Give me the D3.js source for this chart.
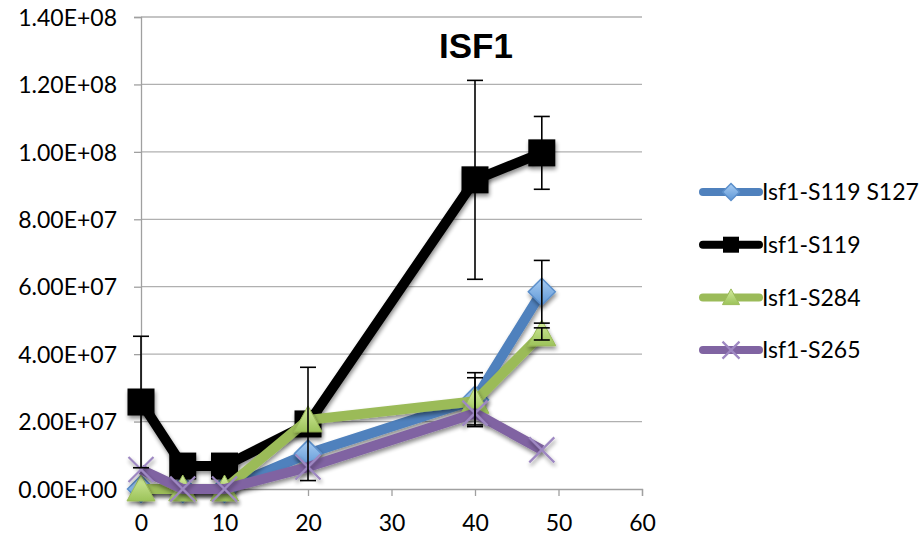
<!DOCTYPE html>
<html><head><meta charset="utf-8">
<script src="https://cdn.jsdelivr.net/npm/d3@7"></script>
<style>body{margin:0;background:#fff}</style>
</head><body>
<svg id="c" width="924" height="539"></svg>
<script>
const times = [0, 5, 10, 20, 40, 48];
const seriesNames = ["Isf1-S119 S127", "Isf1-S119", "Isf1-S284", "Isf1-S265"];
const valsS119S127 = [0, 0, 0, 1.05e7, 2.65e7, 5.85e7];
const errS119S127  = [0, 0, 0, 0, 0.8e7, 0.93e7];
const valsS119 = [2.58e7, 0.68e7, 0.68e7, 1.93e7, 9.17e7, 9.97e7];
const errS119  = [1.95e7, 0, 0, 1.68e7, 2.95e7, 1.08e7];
const valsS284 = [0, 0, 0, 2.05e7, 2.6e7, 4.6e7];
const errS284  = [0, 0, 0, 0, 0.7e7, 0.18e7];
const valsS265 = [0.58e7, 0, 0, 0.65e7, 2.25e7, 1.16e7];
const errS265  = [0, 0, 0, 0, 0, 0];
const yTicks = [0, 2e7, 4e7, 6e7, 8e7, 1e8, 1.2e8, 1.4e8];
const yTickLabels = ["0.00E+00","2.00E+07","4.00E+07","6.00E+07","8.00E+07","1.00E+08","1.20E+08","1.40E+08"];
const xTicks = [0, 10, 20, 30, 40, 50, 60];
const title = "ISF1";

const series = [
  {name: seriesNames[0], vals: valsS119S127, err: errS119S127, line: "#4f81bd", marker: "diamond", fill: "#79aee3", stroke: "#5b8fcb"},
  {name: seriesNames[1], vals: valsS119, err: errS119, line: "#000000", marker: "square", fill: "#000", stroke: "#000"},
  {name: seriesNames[2], vals: valsS284, err: errS284, line: "#9bbb59", marker: "triangle", fill: "#b3d77a", stroke: "#9bbb59"},
  {name: seriesNames[3], vals: valsS265, err: errS265, line: "#8064a2", marker: "x", fill: "none", stroke: "#9e88c2"}
];

const svg = d3.select("#c");
const L = 141, R = 642, T = 17, B = 489;
const x = d3.scaleLinear().domain([0, 60]).range([L, R]);
const y = d3.scaleLinear().domain([0, 1.4e8]).range([B, T]);

const defs = svg.append("defs");
const f = defs.append("filter").attr("id","sh").attr("x","-50%").attr("y","-50%").attr("width","200%").attr("height","200%");
f.append("feGaussianBlur").attr("in","SourceAlpha").attr("stdDeviation",2);
f.append("feOffset").attr("dx",1).attr("dy",3).attr("result","o");
f.append("feComponentTransfer").append("feFuncA").attr("type","linear").attr("slope",0.45);
const m = f.append("feMerge"); m.append("feMergeNode"); m.append("feMergeNode").attr("in","SourceGraphic");
const gb = defs.append("linearGradient").attr("id","gBlue").attr("x1",0).attr("y1",0).attr("x2",0).attr("y2",1);
gb.append("stop").attr("offset","0").attr("stop-color","#a9cdf3");
gb.append("stop").attr("offset","1").attr("stop-color","#5e97d6");
const gg = defs.append("linearGradient").attr("id","gGreen").attr("x1",0).attr("y1",0).attr("x2",0).attr("y2",1);
gg.append("stop").attr("offset","0").attr("stop-color","#d4ec9e");
gg.append("stop").attr("offset","1").attr("stop-color","#9cc35a");
series[0].fill = "url(#gBlue)";
series[2].fill = "url(#gGreen)";

// gridlines
svg.append("g").selectAll("line").data(yTicks.slice(1)).join("line")
  .attr("x1", L).attr("x2", R).attr("y1", d => y(d)).attr("y2", d => y(d))
  .attr("stroke", "#b0b0b0").attr("stroke-width", 1.3);

const font = "Lato, 'Open Sans', sans-serif";
// y axis
const ya = d3.axisLeft(y).tickValues(yTicks).tickSize(7).tickFormat((d,i) => yTickLabels[i]);
const yg = svg.append("g").attr("transform", `translate(${L},0)`).call(ya);
yg.attr("font-size", null).attr("font-family", null);
yg.select(".domain").attr("stroke", "#a0a0a0").attr("stroke-width", 1.3);
yg.selectAll(".tick line").attr("stroke", "#a0a0a0").attr("stroke-width", 1.3);
yg.selectAll("text").attr("font-family", font).attr("font-size", 23).attr("fill", "#000").attr("x", -24).attr("dy","0.36em");
// x axis
const xa = d3.axisBottom(x).tickValues(xTicks).tickSize(7).tickFormat(d3.format("d"));
const xg = svg.append("g").attr("transform", `translate(0,${B})`).call(xa);
xg.attr("font-size", null).attr("font-family", null);
xg.select(".domain").attr("stroke", "#a0a0a0").attr("stroke-width", 1.3);
xg.selectAll(".tick line").attr("stroke", "#a0a0a0").attr("stroke-width", 1.3);
xg.selectAll("text").attr("font-family", font).attr("font-size", 23).attr("fill", "#000").attr("y", 34).attr("dy", "0.36em");

function marker(g, type, fill, stroke, size) {
  const h = size/2;
  if (type === "square") {
    g.append("rect").attr("x",-h).attr("y",-h).attr("width",size).attr("height",size).attr("fill","#000");
  } else if (type === "diamond") {
    g.append("path").attr("d",`M0,${-h}L${h},0L0,${h}L${-h},0Z`).attr("fill",fill).attr("stroke",stroke).attr("stroke-width",1.5);
  } else if (type === "triangle") {
    g.append("path").attr("d",`M0,${-h}L${h},${h*0.85}L${-h},${h*0.85}Z`).attr("fill",fill).attr("stroke",stroke).attr("stroke-width",1);
  } else if (type === "x") {
    g.append("path").attr("d",`M${-h},${-h}L${h},${h}M${h},${-h}L${-h},${h}`).attr("stroke",stroke).attr("stroke-width",2.2);
  }
}
const mSize = {square: 27, diamond: 27, triangle: 28, x: 25};

const line = d3.line().x((d,i) => x(times[i])).y(d => y(d));
const plot = svg.append("g");
series.forEach(s => {
  const g = plot.append("g");
  g.append("path").attr("d", line(s.vals)).attr("fill","none").attr("stroke", s.line)
    .attr("stroke-width", 10).attr("stroke-linejoin","round").attr("filter","url(#sh)");
  s.vals.forEach((v,i) => {
    const mg = g.append("g").attr("transform", `translate(${x(times[i])},${y(v)})`).attr("filter","url(#sh)");
    marker(mg, s.marker, s.fill, s.stroke, mSize[s.marker]);
  });
});
// error bars
series.forEach(s => {
  const eg = svg.append("g");
  s.vals.forEach((v,i) => {
    const e = s.err[i]; if (!e) return;
    const cx = x(times[i]);
    eg.append("line").attr("x1",cx).attr("x2",cx).attr("y1",y(v+e)).attr("y2",y(v-e)).attr("stroke","#000").attr("stroke-width",1.6);
    [v+e, v-e].forEach(t => eg.append("line").attr("x1",cx-8).attr("x2",cx+8).attr("y1",y(t)).attr("y2",y(t)).attr("stroke","#000").attr("stroke-width",1.6));
  });
});

// title
svg.append("text").attr("x", 476).attr("y", 58).attr("text-anchor","middle")
  .attr("font-family","'Liberation Sans', Arial, sans-serif").attr("font-weight","bold").attr("font-size", 35).text(title);

// legend
const lg = svg.append("g");
series.forEach((s,i) => {
  const ly = 192 + i*52.7;
  const g = lg.append("g");
  g.append("line").attr("x1",703).attr("x2",759).attr("y1",ly).attr("y2",ly).attr("stroke",s.line).attr("stroke-width",8).attr("stroke-linecap","round");
  const mg = g.append("g").attr("transform",`translate(731,${ly})`);
  marker(mg, s.marker, s.fill, s.stroke, s.marker === "square" ? 16 : 17);
  g.append("text").attr("x",762).attr("y",ly).attr("dy","0.36em").attr("font-family",font).attr("font-size",23).text(s.name);
});
</script>
</body></html>
